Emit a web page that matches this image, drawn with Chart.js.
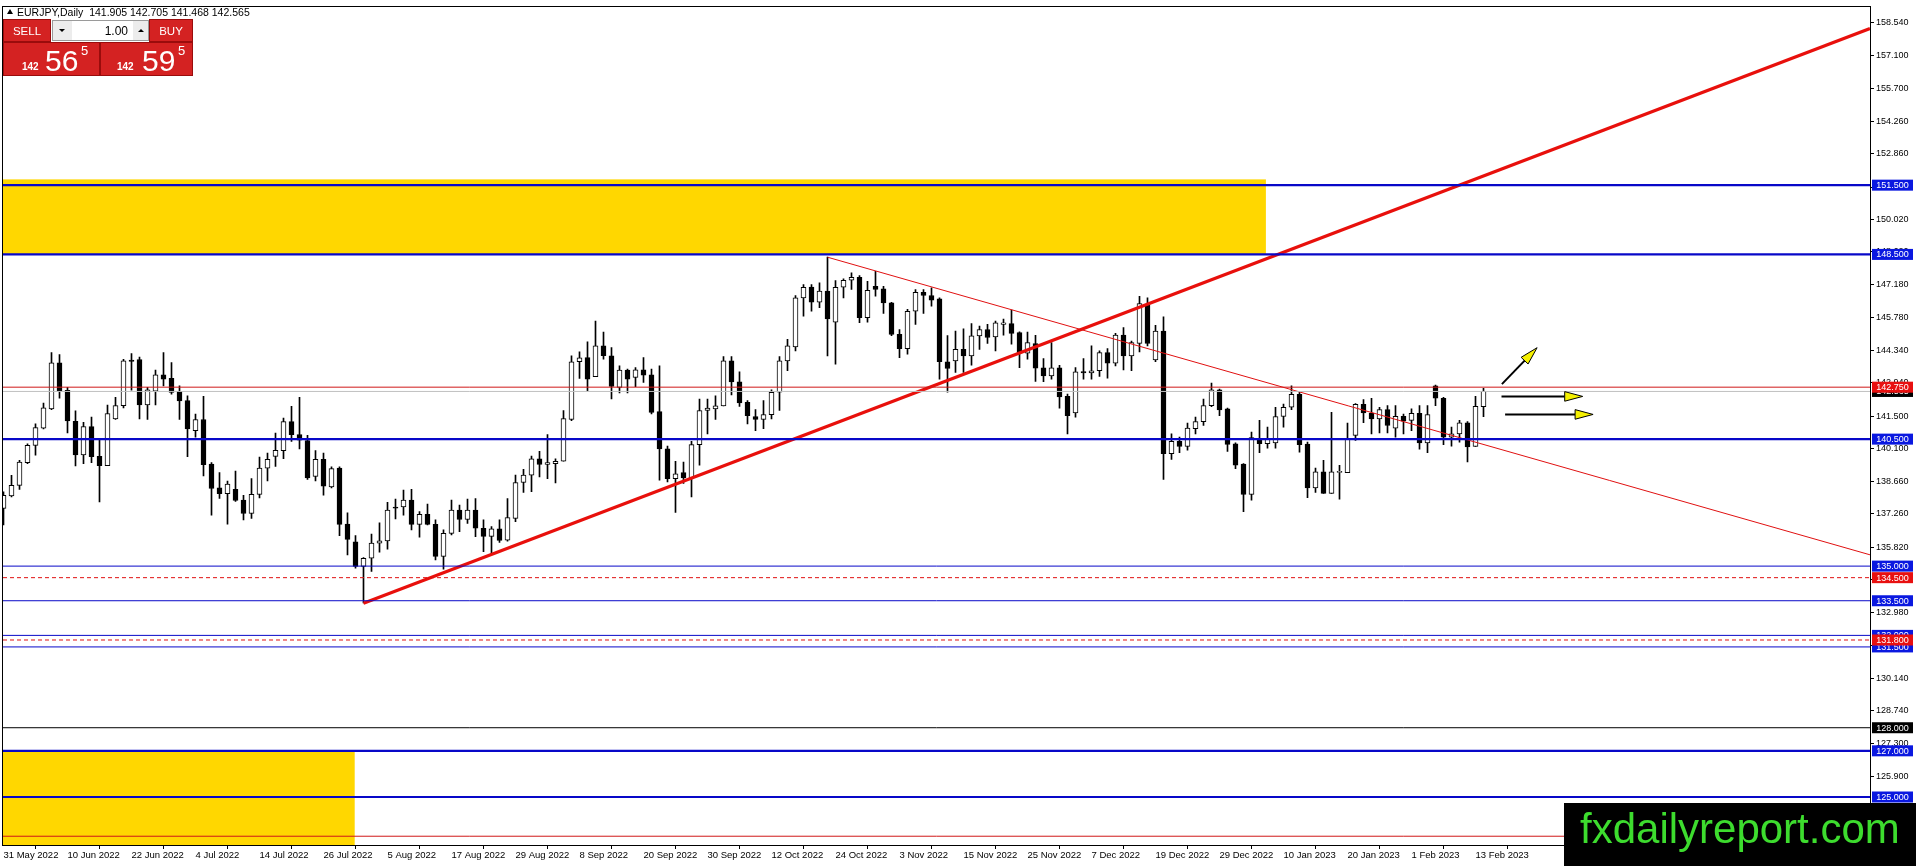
<!DOCTYPE html>
<html><head><meta charset="utf-8">
<script src="https://cdn.jsdelivr.net/npm/chart.js@4/dist/chart.umd.min.js"></script>
<style>html,body{margin:0;padding:0;background:#fff;overflow:hidden}canvas{display:block}</style>
</head><body>
<canvas id="c" width="1916" height="866"></canvas>
<script>
// ---------- DATA ----------
const opens=[137.50,138.04,138.50,139.48,140.23,140.97,141.81,143.80,142.61,141.27,139.82,141.04,139.75,139.35,141.38,141.95,143.92,143.95,141.98,142.58,143.29,143.13,142.57,142.17,140.87,141.35,139.42,138.39,138.14,138.33,137.86,137.28,138.10,139.24,139.75,140.00,141.26,140.70,140.44,138.88,139.62,138.43,139.25,136.82,136.05,134.99,135.34,135.99,136.09,137.56,137.56,137.86,136.81,137.24,136.81,135.42,136.42,137.43,137.02,137.43,136.64,136.29,136.61,136.12,137.07,138.62,138.94,139.65,139.40,139.44,139.54,141.35,143.85,144.03,143.20,144.54,144.11,142.74,143.49,143.17,143.50,143.29,141.69,140.08,138.79,139.05,138.82,140.26,141.74,141.81,141.94,143.89,142.98,142.09,141.48,141.35,141.56,142.53,143.89,144.49,146.62,147.09,146.43,146.91,145.57,147.08,147.38,147.51,145.76,147.12,147.01,146.40,145.04,144.42,146.04,146.86,146.72,146.58,143.85,143.89,144.39,144.10,144.97,145.25,144.93,145.47,145.50,145.11,144.22,144.64,143.59,143.24,143.59,142.35,141.63,143.43,143.37,143.46,144.25,143.79,145.01,144.10,144.65,146.33,143.93,145.18,139.87,140.40,140.18,140.95,141.26,141.95,142.64,141.81,140.30,139.42,138.10,140.49,140.30,140.34,141.48,141.88,142.44,140.29,138.39,139.08,138.15,139.06,139.05,140.66,142.01,141.63,141.38,141.78,140.98,141.49,141.31,141.62,140.34,142.81,142.27,140.59,140.73,141.21,140.18,141.905];
const highs=[138.22,138.93,139.58,140.30,141.16,142.06,144.25,144.16,142.74,141.73,141.23,141.45,140.51,141.98,142.31,143.96,144.21,144.05,142.74,143.49,144.25,143.82,142.81,142.38,141.59,142.35,139.48,139.05,138.68,139.12,138.07,138.79,139.72,139.90,140.76,141.41,141.92,142.31,140.66,140.00,139.90,139.30,139.30,137.31,136.32,135.37,136.39,136.88,137.76,137.90,138.29,138.33,137.36,137.69,137.00,136.57,137.86,137.64,137.90,137.93,137.00,136.71,137.00,137.93,138.94,139.19,139.77,139.97,140.70,139.65,141.74,144.11,144.28,144.71,145.61,145.14,144.46,143.67,143.53,143.60,144.03,143.53,143.67,140.20,139.54,139.51,140.40,142.24,142.24,142.38,144.08,144.08,143.42,142.17,141.78,142.17,142.63,144.08,144.82,146.72,147.19,147.19,147.27,148.38,147.37,147.44,147.70,147.58,147.34,147.77,147.12,146.43,145.25,146.12,146.98,146.98,147.05,146.62,144.99,145.18,145.28,145.51,145.40,145.47,145.61,145.70,146.09,145.15,145.14,145.00,143.99,144.68,143.70,142.45,143.60,143.99,144.54,144.32,144.42,145.08,145.33,144.75,146.69,146.62,145.43,145.80,140.73,140.59,141.19,141.45,142.24,142.93,142.67,141.84,140.34,139.44,140.80,141.31,141.02,141.88,142.02,142.81,142.53,140.37,139.25,139.58,141.66,139.37,141.19,142.04,142.21,142.27,141.88,141.95,141.95,141.59,141.81,141.95,141.95,142.84,142.31,141.02,141.31,141.26,142.35,142.705];
const lows=[136.78,138.00,138.32,139.44,139.80,140.94,141.78,142.27,140.77,139.34,139.44,139.48,137.78,139.35,141.35,141.85,142.62,141.38,141.35,141.98,142.81,142.45,141.35,139.74,140.58,138.91,137.21,137.93,136.82,137.80,137.00,137.07,137.95,138.69,139.32,139.65,140.40,140.08,138.75,138.69,138.07,138.39,136.32,135.49,134.91,133.41,134.77,135.60,135.73,137.04,137.21,136.57,136.25,136.78,135.27,134.87,136.35,136.49,136.85,136.28,135.63,135.53,136.03,136.08,136.93,138.19,138.22,138.86,138.79,138.60,139.54,141.30,143.13,142.60,143.20,143.96,142.24,142.50,142.50,142.77,142.96,141.59,138.72,138.65,137.33,138.58,138.00,139.37,140.73,141.35,141.94,142.41,141.92,141.16,140.87,140.95,141.38,141.74,143.46,144.32,145.83,146.04,146.19,144.10,143.75,146.62,146.98,145.54,145.57,146.69,145.94,144.98,144.03,144.18,145.47,145.94,146.26,143.10,142.53,143.39,143.39,143.70,144.39,144.64,144.32,145.00,144.61,143.60,143.96,143.00,142.99,143.10,141.84,140.73,141.45,143.10,143.10,143.22,143.14,143.67,143.50,143.46,144.28,144.54,143.85,138.76,139.62,139.91,140.02,140.73,141.09,141.91,141.52,139.97,139.22,137.36,137.86,139.91,140.11,140.11,141.02,141.78,139.94,137.96,138.19,138.15,138.15,137.90,139.05,140.44,141.21,140.73,140.77,140.77,140.59,140.73,140.87,140.06,139.91,141.95,140.26,140.20,140.37,139.51,140.18,141.468];
const closes=[138.07,138.50,139.51,140.23,141.00,141.86,143.80,142.58,141.29,139.82,141.04,139.74,139.35,141.61,141.95,143.89,143.87,141.98,142.64,143.29,143.10,142.52,142.15,140.94,141.35,139.39,138.36,138.14,138.55,137.84,137.28,138.11,139.25,139.62,140.01,141.26,140.69,140.46,138.82,139.62,138.46,139.22,136.81,136.16,134.99,135.34,136.00,136.09,137.43,137.51,137.86,136.81,137.24,136.81,135.42,136.42,137.43,137.02,137.43,136.64,136.29,136.61,136.11,137.10,138.62,138.94,139.65,139.40,139.48,139.54,141.39,143.85,144.02,143.10,144.54,144.11,142.78,143.49,143.10,143.50,143.27,141.66,140.08,138.79,139.00,138.82,140.26,141.74,141.85,141.94,143.89,142.98,142.07,141.52,141.35,141.56,142.53,143.89,144.54,146.62,147.08,146.43,146.91,145.71,147.08,147.38,147.51,145.76,146.95,146.98,146.40,145.04,144.42,146.04,146.86,146.72,146.52,143.85,143.56,144.39,144.10,144.97,145.25,144.90,145.54,145.54,145.08,144.22,144.68,143.57,143.24,143.59,142.33,141.52,143.42,143.37,143.46,144.25,143.79,145.01,144.10,144.68,146.37,144.64,145.18,139.87,140.40,140.18,140.98,141.26,141.95,142.64,141.76,140.27,139.37,138.10,140.57,140.30,140.49,141.48,141.88,142.44,140.26,138.39,139.08,138.15,139.08,139.08,140.54,142.01,141.63,141.38,141.78,141.09,141.49,141.28,141.62,140.34,141.56,142.27,140.59,140.73,141.21,140.16,141.92,142.565];

const dateLabels=["31 May 2022","10 Jun 2022","22 Jun 2022","4 Jul 2022","14 Jul 2022","26 Jul 2022","5 Aug 2022","17 Aug 2022","29 Aug 2022","8 Sep 2022","20 Sep 2022","30 Sep 2022","12 Oct 2022","24 Oct 2022","3 Nov 2022","15 Nov 2022","25 Nov 2022","7 Dec 2022","19 Dec 2022","29 Dec 2022","10 Jan 2023","20 Jan 2023","1 Feb 2023","13 Feb 2023"];
const dateTickIndex=[0,8,16,24,32,40,48,56,64,72,80,88,96,104,112,120,128,136,144,152,160,168,176,184];
const yTickValues=[158.54,157.10,155.70,154.26,152.86,151.42,150.02,148.62,147.18,145.78,144.34,142.94,141.50,140.10,138.66,137.26,135.82,134.42,132.98,131.58,130.14,128.74,127.30,125.90,124.46];

const levelsThickBlue=[151.5,148.5,140.5,127.0,125.0];
const levelsThinBlue=[135.0,133.5,132.0,131.5];
const levelsRedSolid=[142.75,123.3];
const levelsRedDashed=[134.5,131.8];
const levelsBlack=[128.0];
const bidPrice=142.565;

const risingTrendX=[45,233.31], risingTrendY=[133.39,158.28];
const fallingTrendX=[103,233.31], fallingTrendY=[148.38,135.49];

const zoneX0=[-1,-1], zoneX1=[157.8,43.9], zoneYLow=[148.5,120.0], zoneYHigh=[151.75,127.0];

const arrowFromX=[187.3,187.25,187.7], arrowFromY=[142.88,142.35,141.57];
const arrowToX=[191.7,197.4,198.7],   arrowToY=[144.46,142.35,141.57];

const tagValues=[151.5,148.5,142.565,142.75,140.5,135.0,134.5,133.5,132.0,131.5,131.8,128.0,127.0,125.0];
const tagKinds =['b','b','k','r','b','b','r','b','b','b','r','k','b','b'];

const header="EURJPY,Daily  141.905 142.705 141.468 142.565";

// ---------- CONFIG ----------
const X_MIN=-0.0625, X_MAX=233.3125, Y_MIN=122.921, Y_MAX=159.199;
const BLUE='#0808c8', RED='#e01010';
Chart.defaults.font.family="'Liberation Sans', Arial, sans-serif";
Chart.defaults.color='#000';

const idx=opens.map((_,i)=>i);
const wickData=idx.map(i=>({x:i,y:[lows[i],highs[i]]}));
const bodyData=idx.map(i=>({x:i,y:[opens[i],closes[i]]}));
const bodyFill=idx.map(i=>closes[i]>=opens[i]?'#ffffff':'#000000');

function hline(v,color,width,dash){
  return {type:'line',data:[{x:X_MIN,y:v},{x:X_MAX,y:v}],borderColor:color,borderWidth:width,borderDash:dash||[],pointRadius:0,fill:false,tension:0,order:0};
}
const lineSets=[];
levelsThinBlue.forEach(v=>lineSets.push(hline(v,BLUE,1)));
levelsThickBlue.forEach(v=>lineSets.push(hline(v,BLUE,2.2)));
levelsRedDashed.forEach(v=>lineSets.push(hline(v,RED,1,[4,3])));
levelsBlack.forEach(v=>lineSets.push(hline(v,'#000',1)));
lineSets.push(hline(bidPrice,'#c0c0c0',1));
levelsRedSolid.forEach(v=>lineSets.push(hline(v,'#d01818',1)));
lineSets.push({type:'line',data:fallingTrendX.map((x,i)=>({x,y:fallingTrendY[i]})),borderColor:'#e01010',borderWidth:1,pointRadius:0,fill:false,order:0});
lineSets.push({type:'line',data:risingTrendX.map((x,i)=>({x,y:risingTrendY[i]})),borderColor:'#e8100c',borderWidth:3.2,pointRadius:0,fill:false,order:0});

const zonePlugin={id:'zones',beforeDatasetsDraw(ch){
  const {ctx,chartArea:a,scales:{x,y}}=ch;
  ctx.save();ctx.beginPath();ctx.rect(a.left,a.top,a.right-a.left,a.bottom-a.top);ctx.clip();
  ctx.fillStyle='#ffd700';
  for(let k=0;k<zoneX0.length;k++){
    const x0=x.getPixelForValue(zoneX0[k]),x1=x.getPixelForValue(zoneX1[k]);
    const y0=y.getPixelForValue(zoneYHigh[k]),y1=y.getPixelForValue(zoneYLow[k]);
    ctx.fillRect(x0,y0,x1-x0,y1-y0);
  }
  ctx.restore();
}};

const overlayPlugin={id:'overlay',afterDraw(ch){
  const {ctx,chartArea:a,scales:{x,y}}=ch;
  // frame
  ctx.save();
  ctx.strokeStyle='#000';ctx.lineWidth=1;
  ctx.strokeRect(Math.round(a.left)-0.5,Math.round(a.top)-0.5,Math.round(a.right-a.left)+1,Math.round(a.bottom-a.top)+1);
  // arrows
  for(let k=0;k<arrowFromX.length;k++){
    const x0=x.getPixelForValue(arrowFromX[k]),y0=y.getPixelForValue(arrowFromY[k]);
    const x1=x.getPixelForValue(arrowToX[k]),y1=y.getPixelForValue(arrowToY[k]);
    const ang=Math.atan2(y1-y0,x1-x0),L=18,W=4.8;
    const bx=x1-L*Math.cos(ang),by=y1-L*Math.sin(ang);
    ctx.strokeStyle='#000';ctx.lineWidth=2;
    ctx.beginPath();ctx.moveTo(x0,y0);ctx.lineTo(bx,by);ctx.stroke();
    ctx.beginPath();ctx.moveTo(x1,y1);
    ctx.lineTo(bx+W*Math.sin(ang),by-W*Math.cos(ang));
    ctx.lineTo(bx-W*Math.sin(ang),by+W*Math.cos(ang));ctx.closePath();
    ctx.fillStyle='#f5f000';ctx.fill();ctx.lineWidth=1;ctx.stroke();
  }
  // price tags
  ctx.font="9px 'Liberation Sans', Arial";ctx.textBaseline='middle';ctx.textAlign='center';
  for(let k=0;k<tagValues.length;k++){
    const py=y.getPixelForValue(tagValues[k]);
    ctx.fillStyle=tagKinds[k]==='b'?'#0a18e0':tagKinds[k]==='r'?'#e81010':'#000';
    ctx.fillRect(a.right+2,py-5.5,41,11);
    ctx.fillStyle='#fff';ctx.fillText(tagValues[k].toFixed(3),a.right+22.5,py+0.5);
  }
  // header
  ctx.fillStyle='#000';ctx.textAlign='left';ctx.textBaseline='alphabetic';
  ctx.beginPath();ctx.moveTo(7,14);ctx.lineTo(13,14);ctx.lineTo(10,9);ctx.closePath();ctx.fill();
  ctx.font="10.5px 'Liberation Sans', Arial";ctx.fillText(header,17,15.5);
  // trading panel
  const red='#d42222',dred='#9a0c0c';
  function redBox(x0,y0,w,h){ctx.fillStyle=red;ctx.fillRect(x0,y0,w,h);ctx.strokeStyle=dred;ctx.lineWidth=1;ctx.strokeRect(x0+0.5,y0+0.5,w-1,h-1);}
  redBox(3,19,48,23); redBox(149,19,44,23);
  ctx.fillStyle='#ececec';ctx.fillRect(52,20,20,21);ctx.fillRect(133,20,16,21);
  ctx.fillStyle='#fff';ctx.fillRect(72,20,61,21);
  ctx.strokeStyle='#9a9a9a';ctx.strokeRect(52.5,20.5,96,20);
  ctx.fillStyle='#000';
  ctx.beginPath();ctx.moveTo(59,29);ctx.lineTo(65,29);ctx.lineTo(62,32);ctx.closePath();ctx.fill();
  ctx.beginPath();ctx.moveTo(138,32);ctx.lineTo(144,32);ctx.lineTo(141,29);ctx.closePath();ctx.fill();
  ctx.font="12px 'Liberation Sans', Arial";ctx.textAlign='right';ctx.fillText('1.00',128,35);
  ctx.textAlign='center';ctx.fillStyle='#fff';ctx.font="11.5px 'Liberation Sans', Arial";
  ctx.fillText('SELL',27,35);ctx.fillText('BUY',171,35);
  redBox(3,42,97,34); redBox(100,42,93,34);
  ctx.textAlign='left';ctx.fillStyle='#fff';
  ctx.font="bold 10px 'Liberation Sans', Arial";ctx.fillText('142',22,70);ctx.fillText('142',117,70);
  ctx.font="30px 'Liberation Sans', Arial";ctx.fillText('56',45,71);ctx.fillText('59',142,71);
  ctx.font="13px 'Liberation Sans', Arial";ctx.fillText('5',81,55);ctx.fillText('5',178,55);
  // watermark
  ctx.fillStyle='#000';ctx.fillRect(1564,803,352,63);
  ctx.fillStyle='#3ddc2e';ctx.font="42px 'Liberation Sans', Arial";ctx.fillText('fxdailyreport.com',1580,843);
  ctx.restore();
}};

new Chart(document.getElementById('c'),{
  type:'bar',
  data:{datasets:[
    {type:'bar',data:wickData,backgroundColor:'#000',borderWidth:0,barThickness:1,grouped:false,order:3},
    {type:'bar',data:bodyData,backgroundColor:bodyFill,borderColor:'#000',borderWidth:1,borderSkipped:false,barThickness:5,minBarLength:1,grouped:false,order:2},
    ...lineSets
  ]},
  options:{
    responsive:false,devicePixelRatio:1,animation:false,
    layout:{padding:{left:3,top:3,right:0,bottom:0}},
    plugins:{legend:{display:false},tooltip:{enabled:false}},
    scales:{
      x:{type:'linear',min:X_MIN,max:X_MAX,offset:false,
        afterBuildTicks:s=>{s.ticks=dateTickIndex.map(v=>({value:v}));},
        afterFit:s=>{s.height=21;},
        grid:{drawOnChartArea:false,drawTicks:true,tickLength:4,color:'#000'},
        border:{display:true,color:'#000'},
        ticks:{autoSkip:false,maxRotation:0,align:'start',padding:1,font:{size:9.5},color:'#000',
          callback:v=>{const k=dateTickIndex.indexOf(v);return k>=0?dateLabels[k]:'';}}},
      y:{type:'linear',position:'right',min:Y_MIN,max:Y_MAX,
        afterBuildTicks:s=>{s.ticks=yTickValues.map(v=>({value:v}));},
        afterFit:s=>{s.width=46;},
        grid:{drawOnChartArea:false,drawTicks:true,tickLength:4,color:'#000'},
        border:{display:true,color:'#000'},
        ticks:{padding:2,font:{size:9},color:'#000',callback:v=>Number(v).toFixed(3)}}
    }
  },
  plugins:[zonePlugin,overlayPlugin]
});
</script>
</body></html>
